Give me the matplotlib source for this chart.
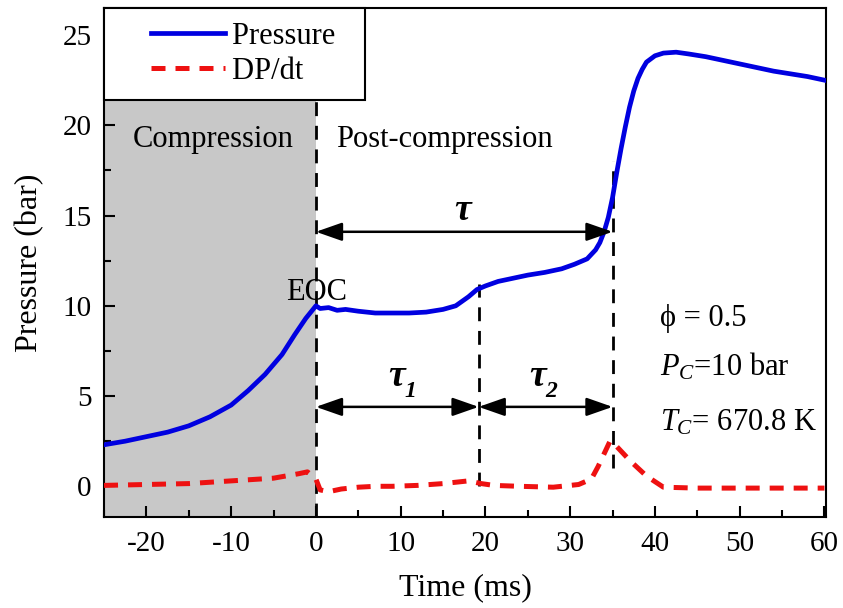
"""Pressure / DP/dt trace with compression and ignition-delay markers."""

import matplotlib

matplotlib.use("Agg")
import matplotlib.pyplot as plt
from matplotlib.legend_handler import HandlerLine2D
from matplotlib.ticker import MultipleLocator

plt.rcParams["font.family"] = ["Liberation Serif", "DejaVu Serif"]
plt.rcParams["mathtext.fontset"] = "custom"
plt.rcParams["mathtext.rm"] = "Liberation Serif"
plt.rcParams["mathtext.it"] = "Liberation Serif:italic"
plt.rcParams["axes.unicode_minus"] = False

# ---------------------------------------------------------------------------
# data
# ---------------------------------------------------------------------------
time_p = [-25, -22.5, -20, -17.5, -15, -12.5, -10, -8, -6, -4, -2.5, -1.2, 0,
          0.5, 1.5, 2.5, 3.5, 5, 7, 9, 11, 13, 15, 16.5, 18, 19, 20, 21.5,
          23, 25, 27, 29, 30.5, 32, 33, 33.5, 34, 34.5, 35, 35.5, 36, 36.5,
          37, 37.5, 38, 38.5, 39, 40, 41, 42.5, 44, 46, 48, 50, 52, 54, 56,
          58, 60]
pressure = [2.3, 2.5, 2.75, 3.0, 3.35, 3.85, 4.5, 5.3, 6.2, 7.3, 8.4, 9.3,
            10.0, 9.85, 9.9, 9.75, 9.8, 9.7, 9.6, 9.6, 9.6, 9.65, 9.8, 10.0,
            10.5, 10.9, 11.1, 11.35, 11.5, 11.7, 11.85, 12.05, 12.3, 12.6,
            13.1, 13.5, 14.1, 14.9, 16.0, 17.4, 18.7, 19.9, 21.0, 21.9, 22.6,
            23.1, 23.5, 23.85, 24.0, 24.05, 23.95, 23.8, 23.6, 23.4, 23.2,
            23.0, 22.85, 22.7, 22.5]

time_d = [-25, -20, -15, -10, -5, -2, -1, 0, 0.5, 1.5, 3, 5, 7, 9, 12, 15,
          18, 19.5, 21, 24, 28, 31, 32.5, 33.3, 34.7, 35.5, 37.1, 39, 41, 45,
          50, 55, 60]
dpdt = [0.05, 0.1, 0.15, 0.3, 0.45, 0.7, 0.8, 0.4, -0.2, -0.3, -0.15, -0.05,
        0.0, 0.0, 0.05, 0.15, 0.3, 0.15, 0.05, 0.0, -0.05, 0.1, 0.4, 1.1,
        2.5, 2.2, 1.4, 0.57, -0.05, -0.1, -0.1, -0.1, -0.1]

EOC = 0.0       # end of compression (ms)
T_FIRST = 19.2  # end of first stage (ms)
T_IGN = 35.0    # ignition (ms)

# ---------------------------------------------------------------------------
# plot
# ---------------------------------------------------------------------------
fig = plt.figure(figsize=(8.43, 6.08), dpi=100)
ax = fig.add_axes([0.1234, 0.1497, 0.8566, 0.8372])

ax.axvspan(-25, EOC, color="#c8c8c8", zorder=0, lw=0)

ax.plot(time_p, pressure, color="#0000e0", lw=3.4, label="Pressure", zorder=4)
ax.plot(time_d, dpdt, color="#ee1111", lw=3.6, dashes=(2.8, 2),
        label="DP/dt", zorder=4)

# vertical dashed markers
vkw = dict(color="k", lw=2, dashes=(5, 3.5), zorder=3)
ax.plot([EOC, EOC], [-1.7, 26.5], **vkw)
ax.plot([T_FIRST, T_FIRST], [0.0, 11.2], **vkw)
ax.plot([T_IGN, T_IGN], [1.0, 18.0], **vkw)

# delay arrows
arrow = dict(arrowstyle="<|-|>,head_length=0.8,head_width=0.28", color="k",
             lw=1.8, mutation_scale=20, shrinkA=0, shrinkB=0)
ax.annotate("", xy=(T_IGN, 14.1), xytext=(EOC, 14.1), arrowprops=arrow,
            zorder=5)
ax.annotate("", xy=(T_FIRST, 4.4), xytext=(EOC, 4.4), arrowprops=arrow,
            zorder=5)
ax.annotate("", xy=(T_IGN, 4.4), xytext=(T_FIRST, 4.4), arrowprops=arrow,
            zorder=5)

tau_kw = dict(fontsize=27, fontstyle="italic", fontweight="bold",
              ha="center", va="center")
ax.text(17.3, 15.3, "τ", **tau_kw)
ax.text(9.5, 6.1, "τ", **tau_kw)
ax.text(26.2, 6.1, "τ", **tau_kw)
sub_kw = dict(fontsize=17, fontstyle="italic", fontweight="bold",
              ha="center", va="center")
ax.text(11.1, 5.25, "1", **sub_kw)
ax.text(27.8, 5.25, "2", **sub_kw)

ax.text(-12.1, 19.2, "Compression", fontsize=22, ha="center", va="center")
ax.text(15.2, 19.2, "Post-compression", fontsize=22, ha="center",
        va="center")
ax.text(0.1, 9.95, "EOC", fontsize=22, ha="center", va="bottom")

ax.text(40.6, 9.3, "ϕ = 0.5", fontsize=22, ha="left", va="center")
ax.text(40.6, 6.6, r"$P_C$=10 bar", fontsize=22, ha="left", va="center")
ax.text(40.6, 3.5, r"$T_C$= 670.8 K", fontsize=22, ha="left", va="center")

ax.set_xlim(-25, 60.2)
ax.set_ylim(-1.7, 26.5)
ax.xaxis.set_major_locator(MultipleLocator(10))
ax.xaxis.set_minor_locator(MultipleLocator(5))
ax.yaxis.set_major_locator(MultipleLocator(5))
ax.yaxis.set_minor_locator(MultipleLocator(2.5))
ax.tick_params(which="both", direction="in", width=1.5, labelsize=21)
ax.tick_params(which="major", length=8)
ax.tick_params(which="minor", length=5)
ax.tick_params(axis="x", pad=10)
ax.tick_params(axis="y", pad=9)
for s in ax.spines.values():
    s.set_linewidth(1.5)

ax.set_xlabel("Time (ms)", fontsize=23, labelpad=12)
ax.set_ylabel("Pressure (bar)", fontsize=23, labelpad=13)

# legend handle pushed right so the box matches the reference width
hmap = {ln: HandlerLine2D(xpad=1.1) for ln in ax.get_lines()[:2]}
leg = ax.legend(loc="upper left", bbox_to_anchor=(0, 1), borderaxespad=0,
                fontsize=22, fancybox=False, framealpha=1, edgecolor="k",
                handlelength=3.5, handletextpad=0.25, borderpad=0.45,
                labelspacing=0.2, handler_map=hmap)
leg.get_frame().set_linewidth(1.5)
leg.set_zorder(10)
# extra right padding
for t in leg.get_texts():
    t.set_text(t.get_text() + "  ")

fig.savefig("out.png", dpi=100)
